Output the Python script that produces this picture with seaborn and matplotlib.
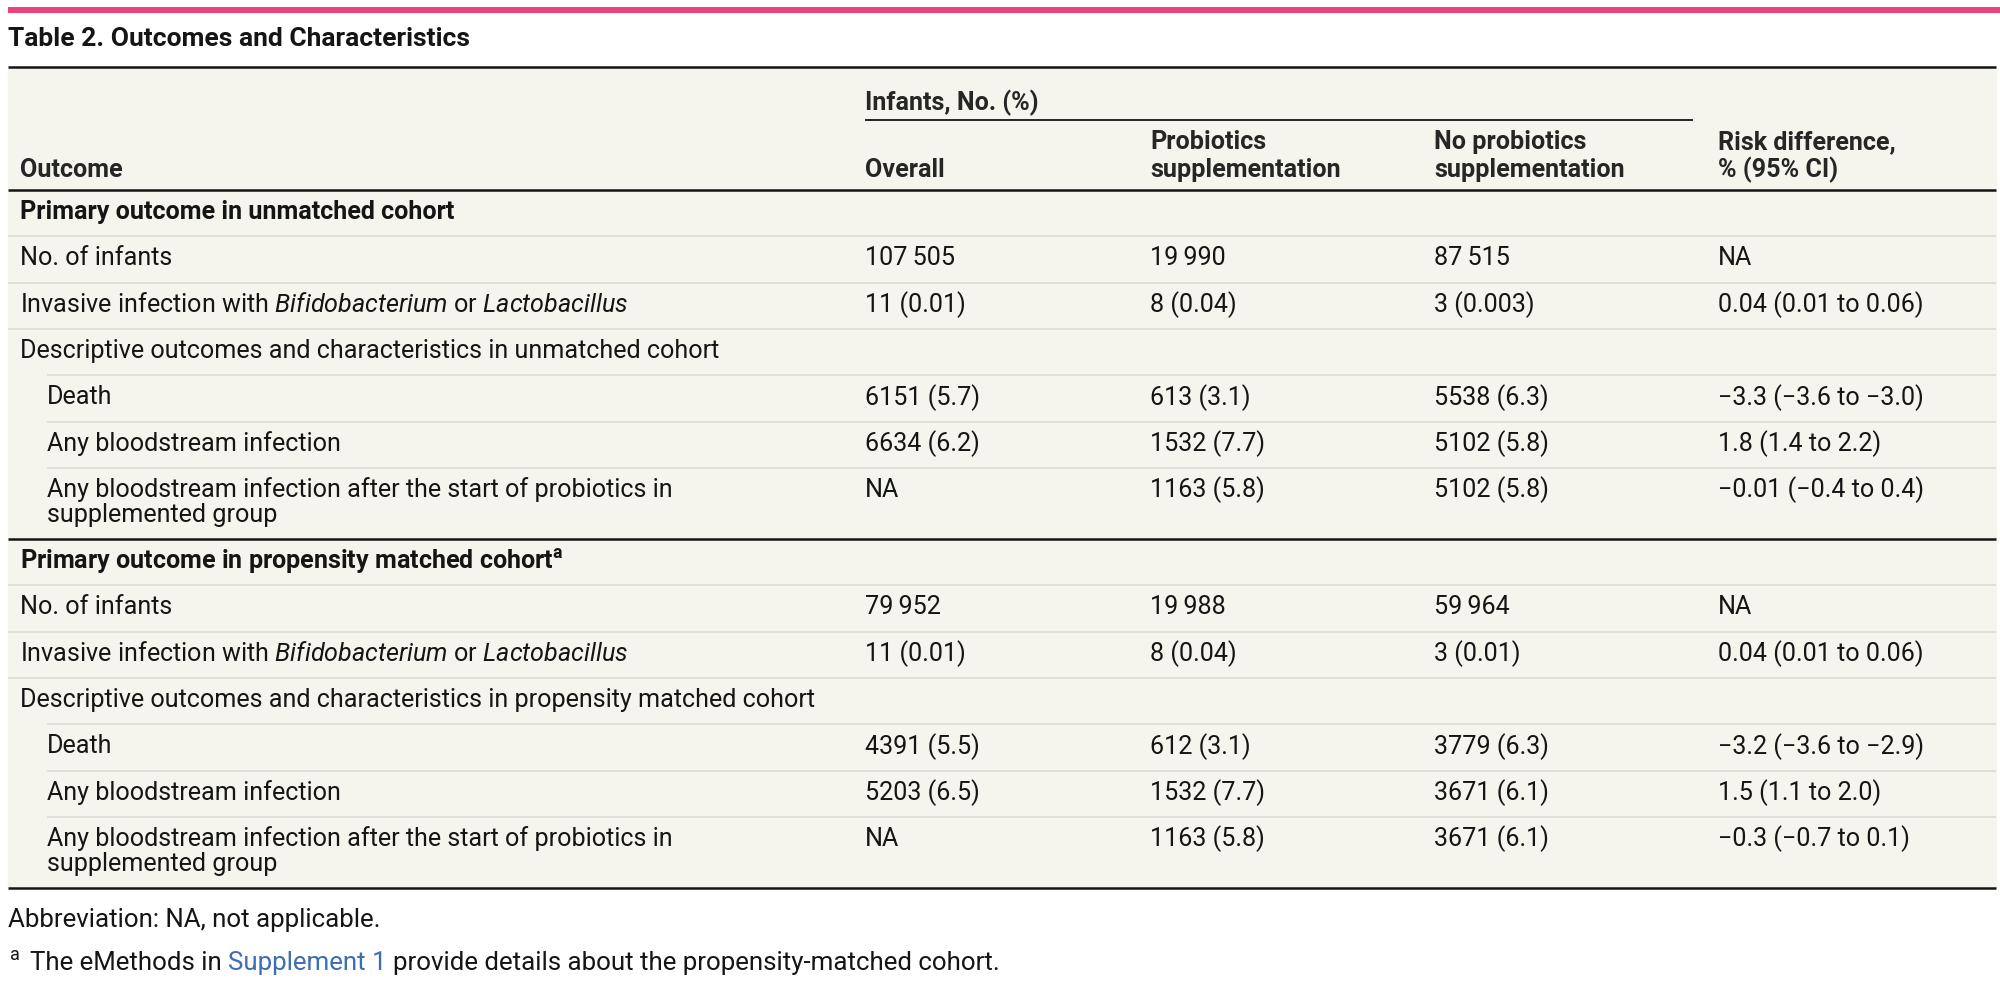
import matplotlib
matplotlib.use("Agg")
import matplotlib.pyplot as plt
from matplotlib.patches import Rectangle
import seaborn as sns

# dados da tabela
outcomes = [
    "Primary outcome in unmatched cohort",
    "No. of infants",
    "Invasive infection with $\\mathit{Bifidobacterium}$ or $\\mathit{Lactobacillus}$",
    "Descriptive outcomes and characteristics in unmatched cohort",
    "Death",
    "Any bloodstream infection",
    "Any bloodstream infection after the start of probiotics in\nsupplemented group",
    "Primary outcome in propensity matched cohort$^{\\mathbf{a}}$",
    "No. of infants",
    "Invasive infection with $\\mathit{Bifidobacterium}$ or $\\mathit{Lactobacillus}$",
    "Descriptive outcomes and characteristics in propensity matched cohort",
    "Death",
    "Any bloodstream infection",
    "Any bloodstream infection after the start of probiotics in\nsupplemented group",
]
row_kind = ["section", "row", "row", "group", "sub", "sub", "sub",
            "section", "row", "row", "group", "sub", "sub", "sub"]

overall = ["", "107\u2009505", "11 (0.01)", "", "6151 (5.7)", "6634 (6.2)", "NA",
           "", "79\u2009952", "11 (0.01)", "", "4391 (5.5)", "5203 (6.5)", "NA"]
probiotics = ["", "19\u2009990", "8 (0.04)", "", "613 (3.1)", "1532 (7.7)", "1163 (5.8)",
              "", "19\u2009988", "8 (0.04)", "", "612 (3.1)", "1532 (7.7)", "1163 (5.8)"]
no_probiotics = ["", "87\u2009515", "3 (0.003)", "", "5538 (6.3)", "5102 (5.8)", "5102 (5.8)",
                 "", "59\u2009964", "3 (0.01)", "", "3779 (6.3)", "3671 (6.1)", "3671 (6.1)"]
risk_diff = ["", "NA", "0.04 (0.01 to 0.06)", "", "\u22123.3 (\u22123.6 to \u22123.0)",
             "1.8 (1.4 to 2.2)", "\u22120.01 (\u22120.4 to 0.4)",
             "", "NA", "0.04 (0.01 to 0.06)", "", "\u22123.2 (\u22123.6 to \u22122.9)",
             "1.5 (1.1 to 2.0)", "\u22120.3 (\u22120.7 to 0.1)"]

col_headers = [["Overall"], ["Probiotics", "supplementation"],
               ["No probiotics", "supplementation"], ["Risk difference,", "% (95% CI)"]]
title = "Table 2. Outcomes and Characteristics"
abbrev = "Abbreviation: NA, not applicable."

sns.set_theme(style="white")
plt.rcParams["font.family"] = ["Roboto", "DejaVu Sans"]
plt.rcParams["mathtext.fontset"] = "custom"
plt.rcParams["mathtext.rm"] = "Roboto"
plt.rcParams["mathtext.it"] = "Roboto:italic"
plt.rcParams["mathtext.bf"] = "Roboto:bold"

W, H = 2000, 985
fig = plt.figure(figsize=(W / 100, H / 100), dpi=100)
ax = fig.add_axes([0, 0, 1, 1])
ax.set_xlim(0, W)
ax.set_ylim(H, 0)
ax.axis("off")
r = fig.canvas.get_renderer()


def largura(txt, size, weight="normal"):
    t = ax.text(0, 0, txt, fontsize=size, fontweight=weight)
    w = t.get_window_extent(renderer=r).width
    t.remove()
    return w


# ajusta o tamanho da fonte pela largura de uma linha do original
fs = 18 * 626 / largura("Any bloodstream infection after the start of probiotics in", 18)
fs_title = 20 * 460 / largura(title, 20, "bold")
fs_nota = fs * 1.03

fundo = "#f5f4ed"
linha_fina = "#dcdbd2"
preto = "#151515"

left, right = 8, 1996
label_x, sub_x = 20, 47
col_x = [865, 1150, 1434, 1718]
row_h, line_h = 46.3, 25.0

# linha rosa + titulo
ax.hlines(10, left, W, color="#e8457c", lw=4.3)
ax.text(left, 39, title, fontsize=fs_title, fontweight="bold", va="center", color=preto)

# posicoes das linhas
tops = []
y = 190
for lab in outcomes:
    tops.append(y)
    y += row_h + line_h * lab.count("\n")
bottom = y

ax.add_patch(Rectangle((left, 67), right - left, bottom - 67, color=fundo, zorder=0))
ax.hlines([67, 190, bottom], left, right, color=preto, lw=1.8)

# cabecalho
ax.text(col_x[0], 103, "Infants, No. (%)", fontsize=fs, fontweight="bold", va="center")
ax.hlines(120, col_x[0], 1693, color=preto, lw=1.3)
ax.text(label_x, 170, "Outcome", fontsize=fs, fontweight="bold", va="center")
for cx, hdr in zip(col_x, col_headers):
    for k, part in enumerate(reversed(hdr)):
        ax.text(cx, 170 - 28 * k, part, fontsize=fs, fontweight="bold", va="center")

# linhas da tabela
for i, lab in enumerate(outcomes):
    top = tops[i]
    kind = row_kind[i]
    if i > 0:
        if kind == "section":
            ax.hlines(top, left, right, color=preto, lw=1.8)
        elif kind == "sub":
            ax.hlines(top, sub_x, right, color=linha_fina, lw=1.1)
        else:
            ax.hlines(top, left, right, color=linha_fina, lw=1.1)
    x0 = sub_x if kind == "sub" else label_x
    peso = "bold" if kind == "section" else "normal"
    for k, part in enumerate(lab.split("\n")):
        ax.text(x0, top + 22 + k * line_h, part, fontsize=fs, fontweight=peso,
                va="center", color=preto)
    vals = [overall[i], probiotics[i], no_probiotics[i], risk_diff[i]]
    for cx, v in zip(col_x, vals):
        if v:
            ax.text(cx, top + 22, v, fontsize=fs, va="center", color=preto)

# notas de rodape
ax.text(left, 920, abbrev, fontsize=fs_nota, va="center", color=preto)
ax.text(10, 955, "a", fontsize=fs * 0.72, va="center", color=preto)
partes = [("The eMethods in", preto), ("Supplement 1", "#3d6db5"),
          ("provide details about the propensity-matched cohort.", preto)]
esp = largura("a a", fs_nota) - largura("aa", fs_nota)
x = 30
for txt, cor in partes:
    t = ax.text(x, 963, txt, fontsize=fs_nota, va="center", color=cor)
    x = t.get_window_extent(renderer=r).x1 + esp

fig.savefig("out.png", dpi=100)
